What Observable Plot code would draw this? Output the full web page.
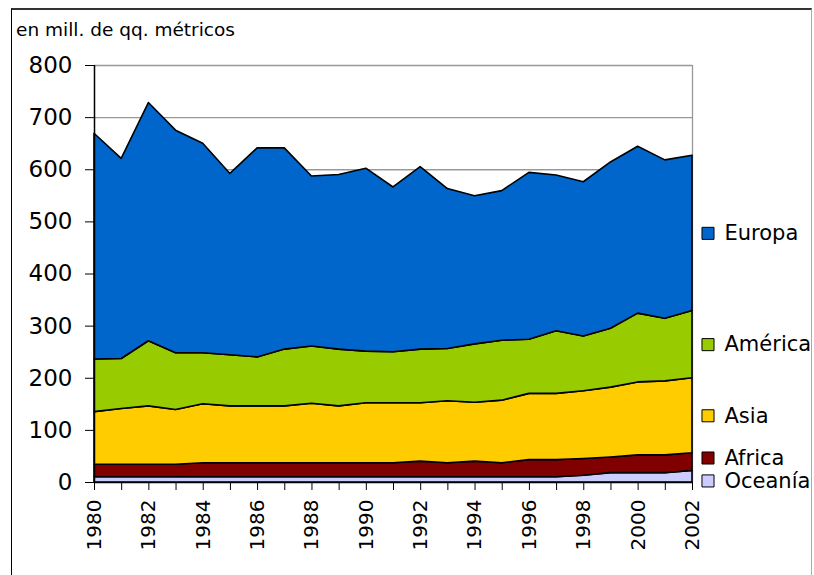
<!DOCTYPE html>
<html>
<head>
<meta charset="utf-8">
<script src="https://cdn.jsdelivr.net/npm/d3@7"></script>
<script src="https://cdn.jsdelivr.net/npm/@observablehq/plot@0.6"></script>
<style>
  html, body { margin: 0; padding: 0; background: #fff; overflow: hidden; width: 814px; height: 575px; }
  #frame { position: absolute; left: 11px; top: 8px; width: 801px; height: 620px;
           border-left: 1px solid #000; border-top: 2px solid #333; border-right: 1px solid #aaa; box-sizing: border-box; }
  #sub { position: absolute; left: 16px; top: 21px; font-family: "DejaVu Sans"; font-size: 18.5px; line-height: 1; color: #000; white-space: nowrap; }
  #chart { position: absolute; left: 0; top: 0; }
</style>
</head>
<body>
<div id="frame"></div>
<div id="sub">en mill. de qq. métricos</div>
<div id="chart"></div>
<script>
// ---- data ----
const years = [1980,1981,1982,1983,1984,1985,1986,1987,1988,1989,1990,1991,1992,1993,1994,1995,1996,1997,1998,1999,2000,2001,2002];
const regions = ["Oceanía", "Africa", "Asia", "América", "Europa"]; // bottom to top
const colors = ["#CCCCFF", "#800000", "#FFCC00", "#99CC00", "#0066CC"];
const oceania = [10,10,10,10,10,10,10,10,10,10,10,10,10,10,10,10,10,10,13,18,18,18,22];
const africa  = [24,24,24,24,27,27,27,27,27,27,27,27,30,27,30,27,33,33,32,30,34,34,34];
const asia    = [101,107,112,105,113,109,109,109,114,109,115,115,112,119,113,120,127,127,130,134,140,142,144];
const america = [101,96,125,109,98,98,94,109,110,109,99,98,103,100,112,115,104,120,105,113,132,120,129];
const europa  = [433,384,457,427,402,348,401,386,326,335,351,316,350,307,284,287,320,299,296,319,320,304,298];
const yTicks = [0,100,200,300,400,500,600,700,800];
const gridVals = [100,200,300,400,500,600,700,800];
const labelYears = [1980,1982,1984,1986,1988,1990,1992,1994,1996,1998,2000,2002];

const series = [oceania, africa, asia, america, europa];
const table = [];
regions.forEach((r, i) => years.forEach((y, j) => table.push({year: y, region: r, value: series[i][j]})));

// end-of-series labels at the middle of each band (last year), nudged apart if too close
const last = years.length - 1;
let base = 0;
const mids = series.map(s => { const m = base + s[last] / 2; base += s[last]; return m; });
const minSep = 44;
for (let k = 0; k < 3; k++) {
  for (let i = 1; i < mids.length; i++) {
    const gap = mids[i] - mids[i - 1];
    if (gap < minSep) { const d = (minSep - gap) / 2; mids[i] += d; mids[i - 1] -= d; }
  }
}
const legend = regions.map((r, i) => ({region: r, y: mids[i], x: years[last]}));

const chart = Plot.plot({
  width: 814, height: 575,
  marginLeft: 94, marginRight: 122, marginTop: 65, marginBottom: 93,
  x: {domain: [1980, 2002]},
  y: {domain: [0, 800]},
  color: {domain: regions, range: colors},
  style: {fontFamily: "DejaVu Sans", background: "transparent", color: "#000", overflow: "visible"},
  marks: [
    Plot.ruleY(gridVals, {stroke: "#999", strokeWidth: 1.3}),
    Plot.ruleX([2002], {stroke: "#999", strokeWidth: 1.3}),
    Plot.areaY(table, {x: "year", y: "value", z: "region", fill: "region", order: regions,
                       stroke: "#000", strokeWidth: 1.6, strokeLinejoin: "round"}),
    Plot.axisY({ticks: yTicks, tickSize: 9, tickPadding: 13, fontSize: 23, label: null, tickFormat: d => String(d)}),
    Plot.axisX({ticks: years, tickSize: 8, label: null, tickFormat: () => ""}),
    Plot.axisX({ticks: labelYears, tickSize: 0, tickPadding: 17, tickRotate: -90, fontSize: 20, label: null, tickFormat: d => String(d)}),
    Plot.ruleX([1980], {stroke: "#000", strokeWidth: 1.5}),
    Plot.ruleY([0], {stroke: "#000", strokeWidth: 1.5}),
    Plot.dot(legend, {x: "x", y: "y", symbol: "square", r: 6.8, fill: "region", stroke: "#000", strokeWidth: 1, dx: 15.5}),
    Plot.text(legend, {x: "x", y: "y", text: "region", textAnchor: "start", dx: 32, fontSize: 21, fill: "#000"})
  ]
});
document.getElementById("chart").appendChild(chart);
</script>
</body>
</html>
